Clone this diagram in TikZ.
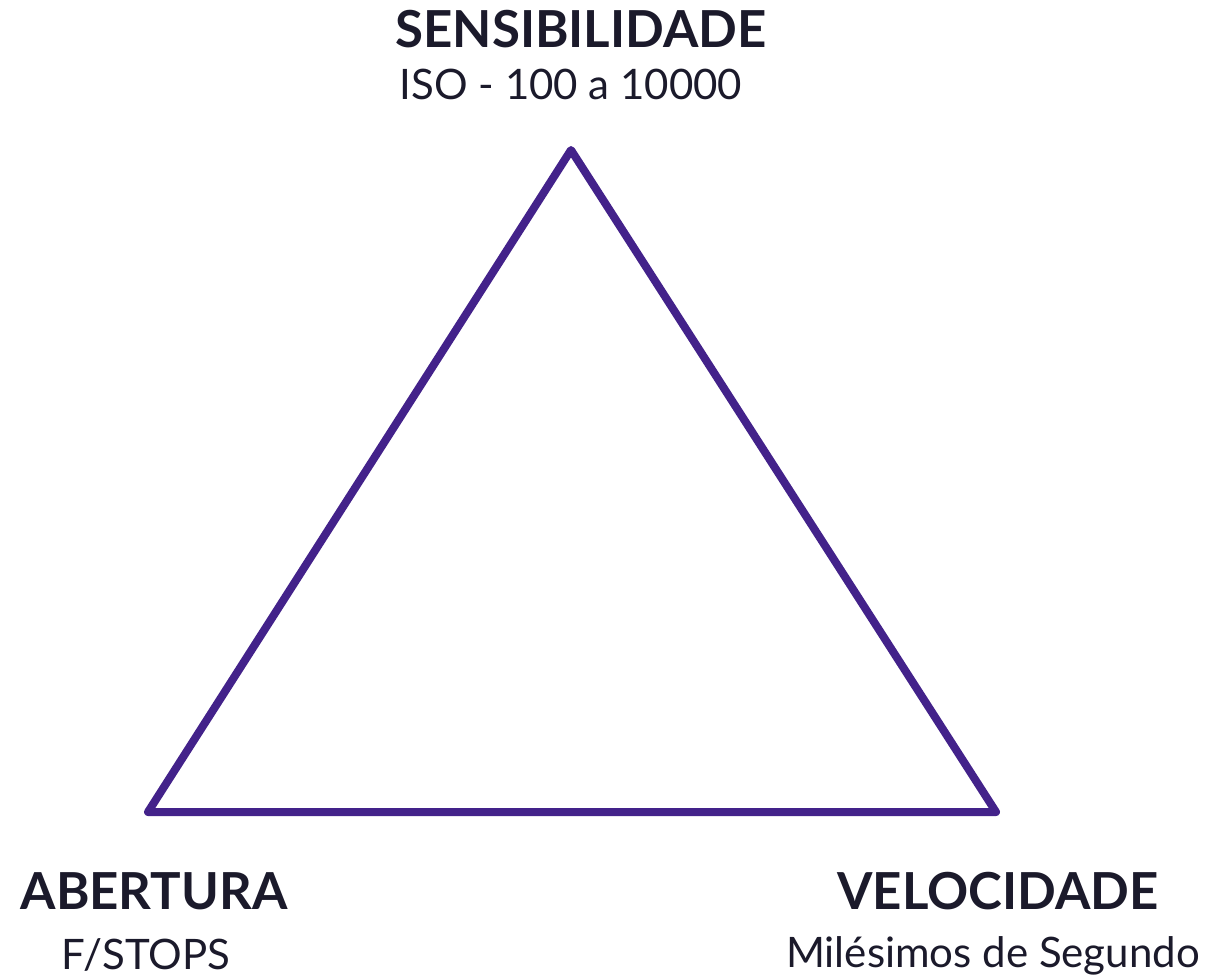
\documentclass[tikz,border=0pt]{standalone}
\usepackage{fontspec}
\setmainfont{Lato}
\definecolor{tripurple}{HTML}{43228A}
\definecolor{textdark}{HTML}{1B1A2B}

\begin{document}
\begin{tikzpicture}[x=1pt, y=-1pt,
    title/.style={font=\fontsize{51}{60}\selectfont\bfseries, text=textdark, anchor=base, inner sep=0pt},
    subtitle/.style={font=\fontsize{42}{50}\selectfont, text=textdark, anchor=base, inner sep=0pt}]
  \useasboundingbox[fill=white] (0,0) rectangle (1222,979);
  \coordinate (top) at (571,150);
  \coordinate (left) at (148,812);
  \coordinate (right) at (996,812);
  \draw[tripurple, line width=8pt, line join=round, line cap=round] (top) -- (left) -- (right) -- cycle;
  \node[title] (sens) at (581,48) {SENSIBILIDADE};
  \node[subtitle] (iso) at (571,100) {ISO - 100 a 10000};
  \node[title] (abert) at (154,909) {ABERTURA};
  \node[subtitle] (fstops) at (146,969) {F/STOPS};
  \node[title] (veloc) at (998,909) {VELOCIDADE};
  \node[subtitle] (miles) at (993,967) {Milésimos de Segundo};
\end{tikzpicture}
\end{document}
